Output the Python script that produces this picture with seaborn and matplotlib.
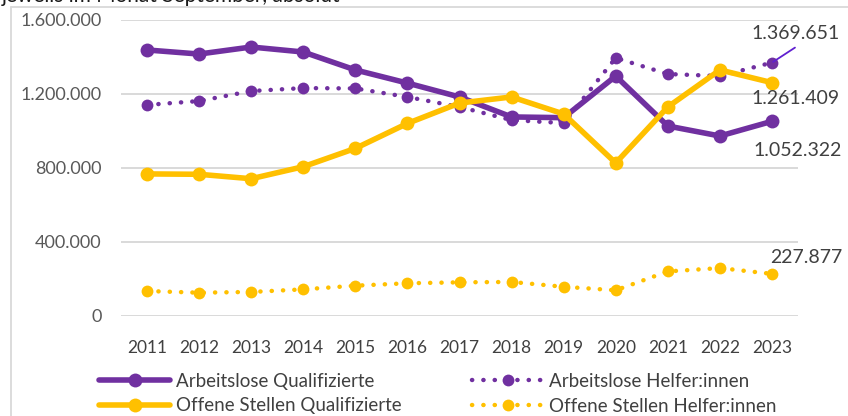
import numpy as np
import pandas as pd
import seaborn as sns
import matplotlib.pyplot as plt
from matplotlib.lines import Line2D

# data (September values, absolute)
years = list(range(2011, 2024))
arbeitslose_quali = [1438000, 1416000, 1454000, 1427000, 1330000, 1259000, 1184000,
                     1076000, 1072000, 1297000, 1027000, 973000, 1052322]
arbeitslose_helfer = [1141000, 1162000, 1216000, 1232000, 1230000, 1184000, 1130000,
                      1059000, 1043000, 1395000, 1308000, 1297000, 1369651]
offene_quali = [768000, 766000, 742000, 807000, 906000, 1041000, 1151000,
                1184000, 1092000, 827000, 1130000, 1330000, 1261409]
offene_helfer = [135000, 126000, 130000, 144000, 164000, 177000, 182000,
                 184000, 158000, 139000, 241000, 259000, 227877]
y_ticks = [0, 400000, 800000, 1200000, 1600000]

PURPLE = "#7030A0"
YELLOW = "#FFC000"
GRAY_TXT = "#595959"
GRID = "#D9D9D9"

sns.set_theme(style="white")
plt.rcParams['font.family'] = ['Lato', 'DejaVu Sans']

W, H = 848, 416
fig = plt.figure(figsize=(W / 100, H / 100), dpi=100)
ax = fig.add_axes([121 / W, 1 - 316 / H, 677 / W, 296 / H])


def de_fmt(v):
    return f"{int(v):,}".replace(",", ".")


series = [
    ("Arbeitslose Qualifizierte", arbeitslose_quali, PURPLE, "solid"),
    ("Arbeitslose Helfer:innen", arbeitslose_helfer, PURPLE, "dotted"),
    ("Offene Stellen Qualifizierte", offene_quali, YELLOW, "solid"),
    ("Offene Stellen Helfer:innen", offene_helfer, YELLOW, "dotted"),
]

for name, vals, color, kind in series:
    df = pd.DataFrame({"Jahr": years, "Wert": vals})
    if kind == "solid":
        sns.lineplot(data=df, x="Jahr", y="Wert", ax=ax, color=color, lw=4,
                     marker="o", markersize=10, markeredgewidth=0,
                     solid_capstyle="round", label=name)
    else:
        sns.lineplot(data=df, x="Jahr", y="Wert", ax=ax, color=color, lw=3.2,
                     linestyle=(0, (0.05, 2.5)), dash_capstyle="round",
                     marker="o", markersize=8.5, markeredgewidth=0, label=name)

ax.set_xlim(2010.5, 2023.5)
ax.set_ylim(0, 1600000)
ax.set_xticks(years)
ax.set_xticklabels([str(y) for y in years])
ax.set_yticks(y_ticks)
ax.set_yticklabels([de_fmt(v) for v in y_ticks])
ax.tick_params(axis="y", length=0, pad=14, labelsize=13, labelcolor=GRAY_TXT)
ax.tick_params(axis="x", length=0, pad=17, labelsize=12.5, labelcolor="#404040")
ax.set_xlabel("")
ax.set_ylabel("")
ax.grid(axis="y", color=GRID, lw=1.4)
ax.set_axisbelow(True)
for sp in ax.spines.values():
    sp.set_visible(False)

# end-of-line value labels
lbl = dict(textcoords="offset pixels", fontsize=14, color="#404040", ha="center", va="center")
ax.annotate(de_fmt(arbeitslose_helfer[-1]), xy=(years[-1], arbeitslose_helfer[-1]),
            xytext=(24, 29), **lbl)
ax.annotate("", xy=(years[-1], arbeitslose_helfer[-1]), xytext=(23, 15),
            textcoords="offset pixels",
            arrowprops=dict(arrowstyle="-", color="#6020D0", lw=1.3, shrinkA=0, shrinkB=1))
ax.annotate(de_fmt(offene_quali[-1]), xy=(years[-1], offene_quali[-1]), xytext=(24, -16), **lbl)
ax.annotate(de_fmt(arbeitslose_quali[-1]), xy=(years[-1], arbeitslose_quali[-1]),
            xytext=(26, -29), **lbl)
ax.annotate(de_fmt(offene_helfer[-1]), xy=(years[-1], offene_helfer[-1]), xytext=(34, 16), **lbl)

# legends: two column groups
handles, labels = ax.get_legend_handles_labels()
ax.get_legend().remove()
lkw = dict(frameon=False, fontsize=13.5, labelcolor="#404040", ncol=1,
           handletextpad=0.3, labelspacing=0.4, borderaxespad=0, borderpad=0,
           handlelength=3.8)
leg1 = fig.legend([handles[0], handles[2]], [labels[0], labels[2]],
                  loc="upper left", bbox_to_anchor=(99 / W, 1 - 373 / H), **lkw)
leg2 = fig.legend([handles[1], handles[3]], [labels[1], labels[3]],
                  loc="upper left", bbox_to_anchor=(472 / W, 1 - 373 / H), **lkw)

# chart frame (cropped) and cut-off subtitle
fig.add_artist(Line2D([11 / W, 11 / W], [0, 1 - 7 / H], color=GRID, lw=1.3))
fig.add_artist(Line2D([11 / W, 1], [1 - 7 / H, 1 - 7 / H], color=GRID, lw=1.3))
fig.text(2 / W, 1 - 2 / H, "jeweils im Monat September, absolut", fontsize=15,
         color="#1a1a1a", va="baseline", ha="left")

fig.savefig("out.png", dpi=100)
